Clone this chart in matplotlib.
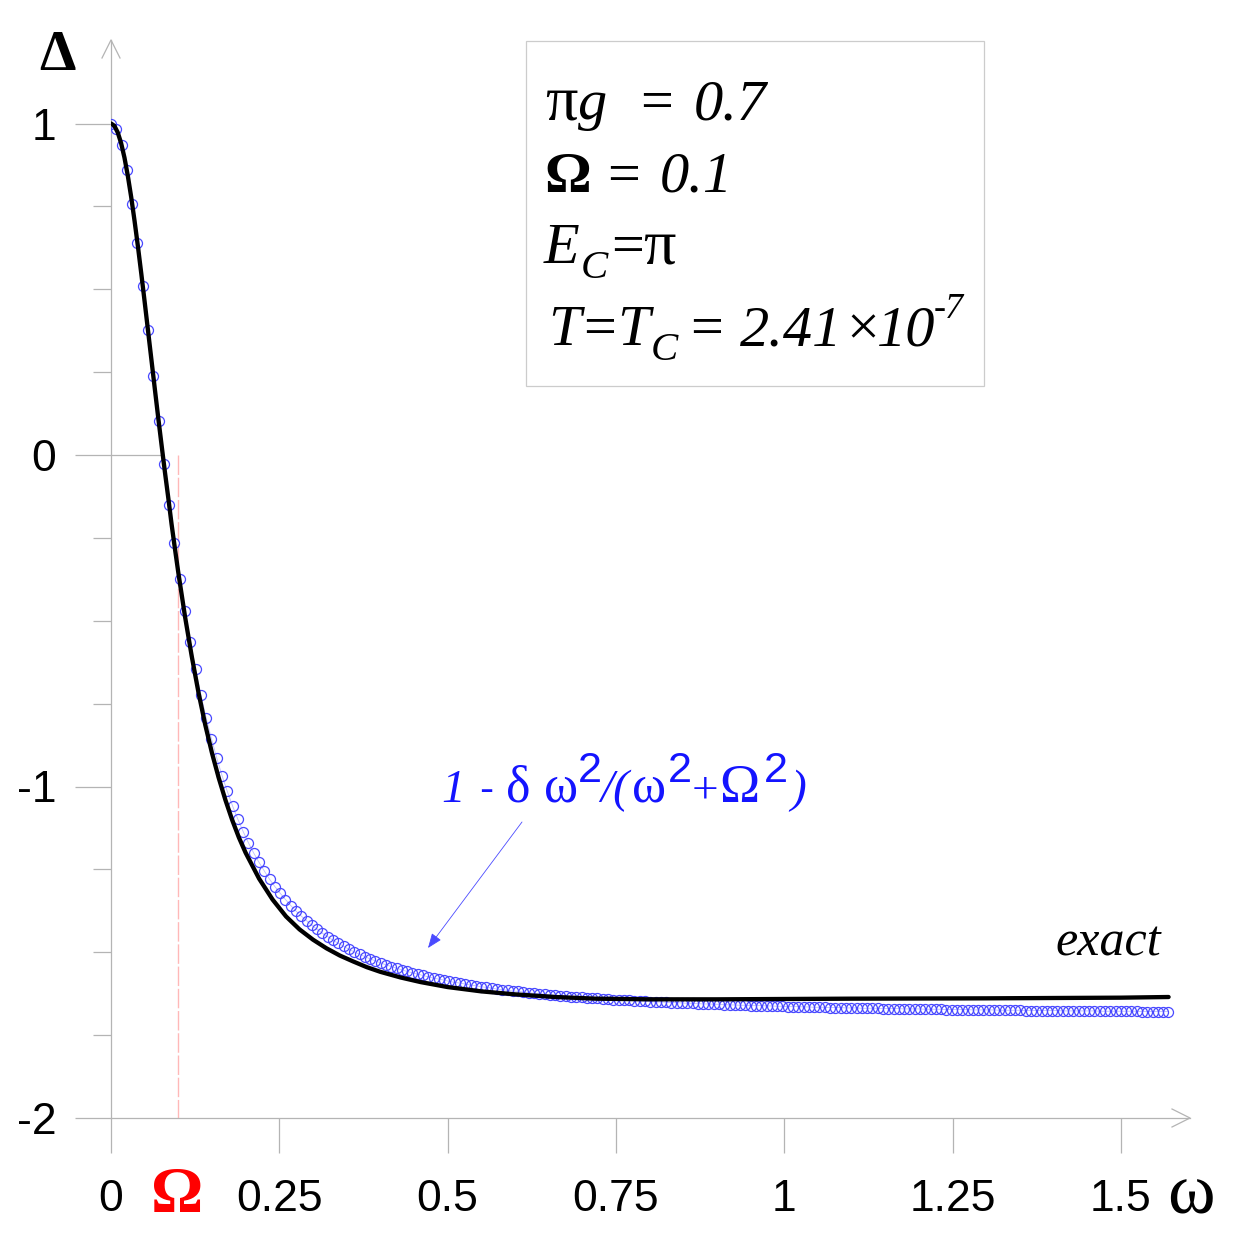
import numpy as np
import matplotlib
matplotlib.use("Agg")
import matplotlib.pyplot as plt
from matplotlib.lines import Line2D
from matplotlib.patches import Rectangle

plt.rcParams['font.family'] = ['Liberation Sans', 'DejaVu Sans']

# ---------------- data ----------------
# approximation 1 - delta w^2/(w^2+Omega^2): circles on uniform grid 0..pi/2
approx_w_start = 0.0
approx_w_end = np.pi / 2
approx_n = 201
approx_delta = [
    1.000, 0.984, 0.935, 0.859, 0.758, 0.641, 0.511, 0.376, 0.238, 0.104,
    -0.026, -0.150, -0.265, -0.373, -0.472, -0.564, -0.647, -0.723, -0.793, -0.856,
    -0.914, -0.967, -1.015, -1.059, -1.099, -1.136, -1.170, -1.201, -1.229, -1.255,
    -1.280, -1.302, -1.322, -1.341, -1.359, -1.376, -1.391, -1.405, -1.419, -1.431,
    -1.443, -1.453, -1.464, -1.473, -1.482, -1.491, -1.499, -1.506, -1.513, -1.520,
    -1.526, -1.532, -1.538, -1.543, -1.548, -1.553, -1.558, -1.562, -1.566, -1.570,
    -1.574, -1.578, -1.581, -1.584, -1.588, -1.591, -1.593, -1.596, -1.599, -1.601,
    -1.604, -1.606, -1.608, -1.611, -1.613, -1.615, -1.617, -1.618, -1.620, -1.622,
    -1.624, -1.625, -1.627, -1.628, -1.630, -1.631, -1.632, -1.634, -1.635, -1.636,
    -1.637, -1.638, -1.639, -1.641, -1.642, -1.643, -1.644, -1.644, -1.645, -1.646,
    -1.647, -1.648, -1.649, -1.650, -1.650, -1.651, -1.652, -1.652, -1.653, -1.654,
    -1.654, -1.655, -1.656, -1.656, -1.657, -1.657, -1.658, -1.659, -1.659, -1.660,
    -1.660, -1.661, -1.661, -1.661, -1.662, -1.662, -1.663, -1.663, -1.664, -1.664,
    -1.664, -1.665, -1.665, -1.666, -1.666, -1.666, -1.667, -1.667, -1.667, -1.668,
    -1.668, -1.668, -1.669, -1.669, -1.669, -1.669, -1.670, -1.670, -1.670, -1.670,
    -1.671, -1.671, -1.671, -1.671, -1.672, -1.672, -1.672, -1.672, -1.673, -1.673,
    -1.673, -1.673, -1.673, -1.674, -1.674, -1.674, -1.674, -1.674, -1.675, -1.675,
    -1.675, -1.675, -1.675, -1.676, -1.676, -1.676, -1.676, -1.676, -1.676, -1.676,
    -1.677, -1.677, -1.677, -1.677, -1.677, -1.677, -1.677, -1.678, -1.678, -1.678,
    -1.678, -1.678, -1.678, -1.678, -1.678, -1.679, -1.679, -1.679, -1.679, -1.679,
    -1.679,
]

# exact solution (black curve)
exact_w = [0.0, 0.005, 0.01, 0.015, 0.02, 0.025, 0.03, 0.035, 0.04, 0.045,
           0.05, 0.055, 0.06, 0.065, 0.07, 0.075, 0.08, 0.085, 0.09, 0.095,
           0.10, 0.11, 0.12, 0.13, 0.14, 0.15, 0.16, 0.17, 0.18, 0.19,
           0.20, 0.22, 0.24, 0.26, 0.28, 0.30, 0.32, 0.34, 0.36, 0.38,
           0.40, 0.43, 0.46, 0.50, 0.55, 0.60, 0.66, 0.72, 0.80, 0.90,
           1.00, 1.10, 1.20, 1.30, 1.40, 1.50, 1.571]
exact_delta = [1.000, 0.993, 0.973, 0.941, 0.897, 0.842, 0.778, 0.706, 0.629, 0.547,
               0.462, 0.375, 0.288, 0.201, 0.115, 0.032, -0.050, -0.128, -0.209, -0.283,
               -0.355, -0.488, -0.608, -0.717, -0.814, -0.899, -0.974, -1.041, -1.101, -1.154,
               -1.200, -1.278, -1.341, -1.392, -1.431, -1.462, -1.488, -1.510, -1.528, -1.545,
               -1.559, -1.576, -1.590, -1.605, -1.618, -1.627, -1.635, -1.640, -1.642, -1.642,
               -1.641, -1.640, -1.6395, -1.639, -1.638, -1.637, -1.635]

Omega = 0.1
zero_cross = 0.075
x_ticks = [0, 0.25, 0.5, 0.75, 1, 1.25, 1.5]
x_ticklabels = ['0', '0.25', '0.5', '0.75', '1', '1.25', '1.5']
y_ticks = [-2, -1, 0, 1]
y_ticklabels = ['-2', '-1', '0', '1']
y_minor = [-1.75, -1.5, -1.25, -0.75, -0.5, -0.25, 0.25, 0.5, 0.75]

# ---------------- figure ----------------
W, H = 1240, 1239
fig = plt.figure(figsize=(W / 100, H / 100), dpi=100)

def P(x, y):
    return (x / W, 1 - y / H)

ax_l, ax_r, ax_t, ax_b = 111, 1190, 40, 1118
ax = fig.add_axes([ax_l / W, 1 - ax_b / H, (ax_r - ax_l) / W, (ax_b - ax_t) / H])
ax.set_xlim(0, (ax_r - ax_l) / 673.2)
ax.set_ylim(-2, -2 + (ax_b - ax_t) / 331.5)

gray = '#b4b4b4'
for s in ['top', 'right']:
    ax.spines[s].set_visible(False)
for s in ['left', 'bottom']:
    ax.spines[s].set_color(gray)
    ax.spines[s].set_linewidth(0.9)

ax.set_xticks(x_ticks)
ax.set_xticklabels(x_ticklabels)
ax.set_yticks(y_ticks)
ax.set_yticklabels(y_ticklabels)
ax.set_yticks(y_minor, minor=True)
ax.tick_params(axis='x', direction='out', length=25, width=0.9, color=gray,
               labelsize=32, pad=19)
ax.tick_params(axis='y', direction='out', length=26, width=0.9, color=gray,
               labelsize=32, pad=13.5)
ax.tick_params(axis='y', which='minor', direction='out', length=13, width=0.9, color=gray)
ax.patch.set_alpha(0)

# arrow heads on axes
fig.add_artist(Line2D([P(102, 58)[0], P(111, 40)[0], P(120, 58)[0]],
                      [P(102, 58)[1], P(111, 40)[1], P(120, 58)[1]], color=gray, lw=0.9))
fig.add_artist(Line2D([P(1172, 1109)[0], P(1190, 1118)[0], P(1172, 1127)[0]],
                      [P(1172, 1109)[1], P(1190, 1118)[1], P(1172, 1127)[1]], color=gray, lw=0.9))

# helper lines
ax.plot([0, zero_cross], [0, 0], color=gray, lw=0.9, zorder=1)
ax.plot([Omega, Omega], [0, -2], color='#ffb8b8', lw=1.0, ls=(0, (14, 2)), zorder=1)

# approximation circles
aw = np.linspace(approx_w_start, approx_w_end, approx_n)
ax.plot(aw, approx_delta, color='#9090ff', lw=0.6, alpha=0.6, zorder=2)
ax.plot(aw, approx_delta, ls='none', marker='o', ms=7.2, mfc='none', mec='#4848ff',
        mew=0.9, zorder=3)

# exact curve
ax.plot(exact_w, exact_delta, color='black', lw=3.1, solid_capstyle='round',
        solid_joinstyle='round', zorder=4)

SERIF = 'Liberation Serif'
SANS = 'Liberation Sans'

def seg(x, y, s, size, style='normal', weight='normal', family=SERIF, color='black'):
    fig.text(x / W, 1 - y / H, s, fontsize=size, style=style, weight=weight,
             family=family, color=color, ha='left', va='baseline')

# axis labels
fig.text(57 / W, 1 - 70 / H, 'Δ', fontsize=42, ha='center', va='baseline',
         family=SERIF, weight='bold')
fig.text(177 / W, 1 - 1212 / H, 'Ω', fontsize=47, ha='center', va='baseline',
         color='red', family=SERIF, weight='bold')
fig.text(1191 / W, 1 - 1213 / H, 'ω', fontsize=52, ha='center', va='baseline',
         family=SERIF)

# parameter box
fig.add_artist(Rectangle(P(526, 386), (984 - 526) / W, (386 - 41) / H,
                         transform=fig.transFigure, fill=False, ec='#cccccc', lw=0.9))
fs = 42
# line 1: pi g = 0.7
seg(545, 119, 'π', fs * 1.1)
seg(578, 119, 'g', fs, style='italic')
seg(640, 119, '=', fs)
seg(694, 119, '0.7', fs, style='italic')
# line 2: Omega = 0.1
seg(544, 192, 'Ω', fs, weight='bold')
seg(607, 192, '=', fs)
seg(660, 192, '0.1', fs, style='italic')
# line 3: E_C = pi
seg(544, 263, 'E', fs, style='italic')
seg(581, 278, 'C', fs * 0.7, style='italic')
seg(611, 263, '=', fs)
seg(643, 263, 'π', fs * 1.1)
# line 4: T = T_C = 2.41x10^-7
seg(548, 345, 'T', fs, style='italic')
seg(583, 345, '=', fs)
seg(617, 345, 'T', fs, style='italic')
seg(651, 360, 'C', fs * 0.7, style='italic')
seg(690, 345, '=', fs)
seg(740, 345, '2.41', fs, style='italic')
seg(846, 345, '×', fs)
seg(877, 345, '10', fs, style='italic')
seg(934, 318, '-7', fs * 0.62, style='italic')

# formula annotation
blue = '#1414ff'
ffs = 34
g = 1.1
seg(441, 802, '1', ffs, style='italic', color=blue)
seg(479, 802, '-', ffs * 0.9, family=SANS, color=blue)
seg(506, 802, 'δ', ffs * g, color=blue)
seg(544, 802, 'ω', ffs * g, color=blue)
seg(578, 782, '2', ffs * 0.92, family=SANS, color=blue)
seg(600, 802, '/(', ffs, style='italic', color=blue)
seg(632, 802, 'ω', ffs * g, color=blue)
seg(668, 782, '2', ffs * 0.92, family=SANS, color=blue)
seg(692, 802, '+', ffs, color=blue)
seg(719, 802, 'Ω', ffs * 1.15, color=blue)
seg(764, 782, '2', ffs * 0.92, family=SANS, color=blue)
seg(790, 802, ')', ffs, style='italic', color=blue)

ax.annotate('', xy=P(428, 948), xycoords='figure fraction',
            xytext=P(522, 822), textcoords='figure fraction',
            arrowprops=dict(arrowstyle='-|>,head_length=0.9,head_width=0.35',
                            color='#4a4aff', lw=0.6, shrinkA=0, shrinkB=0))

seg(1055, 955, 'exact', 36, style='italic')

fig.savefig('out.png', dpi=100)
